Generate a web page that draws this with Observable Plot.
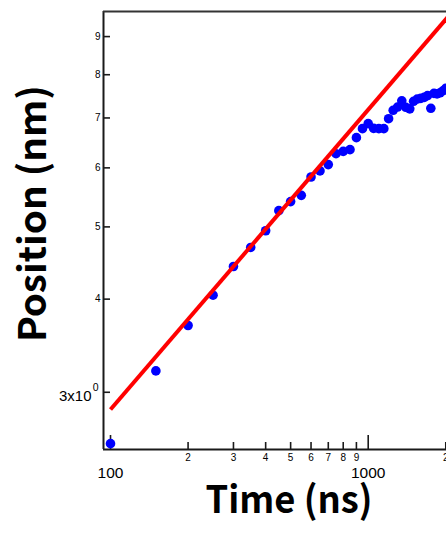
<!DOCTYPE html>
<html>
<head>
<meta charset="utf-8">
<script src="https://cdn.jsdelivr.net/npm/d3@7"></script>
<script src="https://cdn.jsdelivr.net/npm/@observablehq/plot@0.6"></script>
<style>
  html, body { margin: 0; padding: 0; background: #fff; overflow: hidden; }
  #chart svg { display: block; }
</style>
</head>
<body>
<div id="chart"></div>
<script>
// Measured data (log-log)
const times = [100,150,200,250,300,350,400,450,500,550,600,650,700,750,800,850,900,950,1000,1050,1100,1150,1200,1250,1300,1350,1400,1450,1500,1550,1600,1650,1700,1750,1800,1850,1900,1950,2000];
const positions = [2.56,3.205,3.687,4.049,4.424,4.692,4.941,5.257,5.406,5.512,5.833,5.944,6.061,6.268,6.313,6.347,6.587,6.772,6.878,6.778,6.772,6.772,6.984,7.167,7.240,7.380,7.234,7.200,7.369,7.421,7.437,7.460,7.500,7.212,7.553,7.540,7.565,7.612,7.671];

// Power-law fit line
const fitTimes = [100, 2100];
const fitPositions = [2.844, 9.68];

// Axis domains and ticks
const xDomain = [93.93, 2013];
const yDomain = [2.514, 9.725];
const xMinorTicks = [200,300,400,500,600,700,800,900,2000];
const xMinorLabels = ["2","3","4","5","6","7","8","9","2"];
const xMajorTicks = [100, 1000];
const xMajorLabels = ["100", "1000"];
const yTicks = [3,4,5,6,7,8,9];
const yLabels = ["", "4","5","6","7","8","9"];
const yMantissa = ["3x10"];
const yExponent = ["0"];
const xTitle = "Time (ns)";
const yTitle = "Position (nm)";

const points = times.map((t, i) => ({t, p: positions[i]}));
const fit = fitTimes.map((t, i) => ({t, p: fitPositions[i]}));

const W = 446, H = 534;
const mL = 103, mR = 0, mT = 11, mB = 85;
const innerW = W - mL - mR, innerH = H - mT - mB;
const axisColor = "#1a1a1a";
const tickFont = "'Liberation Sans', Arial, sans-serif";
const titleFont = "'Noto Sans CJK JP', 'Noto Sans', sans-serif";

const chart = Plot.plot({
  width: W,
  height: H,
  marginLeft: mL, marginRight: mR, marginTop: mT, marginBottom: mB,
  x: {type: "log", domain: xDomain, axis: null},
  y: {type: "log", domain: yDomain, axis: null},
  style: {background: "#fff", overflow: "visible"},
  marks: [
    // frame lines (left, bottom, top)
    Plot.ruleX([xDomain[0]], {stroke: axisColor, strokeWidth: 2}),
    Plot.ruleY([yDomain[0]], {stroke: axisColor, strokeWidth: 2}),
    Plot.ruleY([yDomain[1]], {stroke: "#333", strokeWidth: 2}),
    // inward ticks
    Plot.tickX(xMinorTicks, {x: d => d, stroke: axisColor, strokeWidth: 1.6, insetTop: innerH - 7}),
    Plot.tickX(xMajorTicks, {x: d => d, stroke: axisColor, strokeWidth: 1.6, insetTop: innerH - 14}),
    Plot.tickY(yTicks, {y: d => d, stroke: axisColor, strokeWidth: 1.6, insetRight: innerW - 7}),
    // tick labels
    Plot.text(xMinorTicks, {x: d => d, text: (d, i) => xMinorLabels[i], frameAnchor: "bottom", dy: 11, fontSize: 10, fontFamily: tickFont, fill: "#000"}),
    Plot.text(xMajorTicks, {x: d => d, text: (d, i) => xMajorLabels[i], frameAnchor: "bottom", dy: 28, fontSize: 15.5, fontFamily: tickFont, fill: "#000"}),
    Plot.text(yTicks, {y: d => d, text: (d, i) => yLabels[i], frameAnchor: "left", textAnchor: "end", dx: -3, fontSize: 10, fontFamily: tickFont, fill: "#000"}),
    Plot.text(yMantissa, {y: () => yTicks[0], text: d => d, frameAnchor: "left", textAnchor: "end", dx: -12, dy: 4, fontSize: 15, fontFamily: tickFont, fill: "#000"}),
    Plot.text(yExponent, {y: () => yTicks[0], text: d => d, frameAnchor: "left", textAnchor: "end", dx: -5, dy: -5, fontSize: 10.5, fontFamily: tickFont, fill: "#000"}),
    // data
    Plot.dot(points, {x: "t", y: "p", r: 4.8, fill: "#0000ff", stroke: "none"}),
    Plot.line(fit, {x: "t", y: "p", stroke: "#ff0000", strokeWidth: 4, strokeLinecap: "butt"}),
    // axis titles
    Plot.text([xTitle], {text: d => d, frameAnchor: "bottom", textAnchor: "middle", dx: 14, dy: 63, fontSize: 38, fontWeight: "bold", fontFamily: titleFont, fill: "#000", className: "xtitle"}),
    Plot.text([yTitle], {text: d => d, frameAnchor: "left", textAnchor: "middle", rotate: -90, dx: -70, dy: -17, fontSize: 38, fontWeight: "bold", fontFamily: titleFont, fill: "#000", className: "ytitle"})
  ]
});
document.getElementById("chart").appendChild(chart);

// fit titles to the reference's text widths
d3.select(chart).selectAll(".xtitle text").attr("textLength", 167).attr("lengthAdjust", "spacingAndGlyphs");
d3.select(chart).selectAll(".ytitle text").attr("textLength", 257).attr("lengthAdjust", "spacingAndGlyphs");
</script>
</body>
</html>
